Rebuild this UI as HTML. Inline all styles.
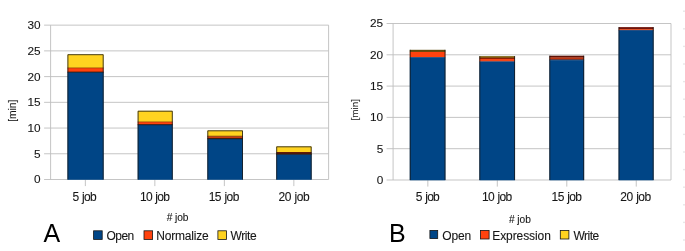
<!DOCTYPE html>
<html><head><meta charset="utf-8"><title>Charts</title>
<style>
html,body{margin:0;padding:0;background:#fff;}
svg{display:block;}
text{font-family:"Liberation Sans",sans-serif;fill:#161616;stroke:#161616;stroke-width:0.1px;}
.big{font-size:25px;fill:#000;stroke:none;}
.g{stroke:#bebebe;stroke-width:0.9;fill:none;}
.b{stroke:#151515;stroke-width:0.8;}
.o{stroke:#151515;stroke-width:0.8;fill:none;}
</style></head><body>
<svg width="685" height="251" viewBox="0 0 685 251">
<rect width="685" height="251" fill="#fff"/>
<line x1="44.10" y1="179.50" x2="328.6" y2="179.50" class="g"/>
<text x="40.5" y="183" class="t" style="font-size:11.8px" text-anchor="end">0</text>
<line x1="44.10" y1="153.78" x2="328.6" y2="153.78" class="g"/>
<text x="40.5" y="158" class="t" style="font-size:11.8px" text-anchor="end">5</text>
<line x1="44.10" y1="128.05" x2="328.6" y2="128.05" class="g"/>
<text x="40.5" y="132" class="t" style="font-size:11.8px" text-anchor="end">10</text>
<line x1="44.10" y1="102.33" x2="328.6" y2="102.33" class="g"/>
<text x="40.5" y="106" class="t" style="font-size:11.8px" text-anchor="end">15</text>
<line x1="44.10" y1="76.60" x2="328.6" y2="76.60" class="g"/>
<text x="40.5" y="81" class="t" style="font-size:11.8px" text-anchor="end">20</text>
<line x1="44.10" y1="50.88" x2="328.6" y2="50.88" class="g"/>
<text x="40.5" y="55" class="t" style="font-size:11.8px" text-anchor="end">25</text>
<line x1="44.10" y1="25.15" x2="328.6" y2="25.15" class="g"/>
<text x="40.5" y="29" class="t" style="font-size:11.8px" text-anchor="end">30</text>
<line x1="50.6" y1="25.15" x2="50.6" y2="179.5" class="g"/>
<line x1="328.6" y1="25.15" x2="328.6" y2="179.5" class="g"/>
<line x1="85.35" y1="179.5" x2="85.35" y2="186.1" class="g"/>
<text x="72.62" y="200.60" class="t" style="font-size:12px;letter-spacing:-0.663px;word-spacing:0.8px" >5 job</text>
<line x1="154.85" y1="179.5" x2="154.85" y2="186.1" class="g"/>
<text x="139.90" y="200.60" class="t" style="font-size:12px;letter-spacing:-0.678px;word-spacing:0.8px" >10 job</text>
<line x1="224.35" y1="179.5" x2="224.35" y2="186.1" class="g"/>
<text x="208.80" y="200.60" class="t" style="font-size:12px;letter-spacing:-0.598px;word-spacing:0.8px" >15 job</text>
<line x1="293.85" y1="179.5" x2="293.85" y2="186.1" class="g"/>
<text x="278.60" y="200.60" class="t" style="font-size:12px;letter-spacing:-0.498px;word-spacing:0.8px" >20 job</text>
<rect x="67.50" y="54.30" width="36.10" height="13.90" fill="#ffd320"/>
<rect x="67.50" y="67.90" width="36.10" height="4.50" fill="#ff420e"/>
<rect x="67.50" y="72.10" width="36.10" height="107.70" fill="#004586"/>
<line x1="67.50" y1="67.90" x2="103.60" y2="67.90" stroke="#7a3a08" stroke-width="0.6"/>
<line x1="67.50" y1="72.10" x2="103.60" y2="72.10" stroke="#1a1208" stroke-width="0.8"/>
<path d="M67.90 179.50V54.70H103.20V179.50" class="o"/>
<rect x="137.70" y="110.80" width="35.00" height="11.40" fill="#ffd320"/>
<rect x="137.70" y="121.90" width="35.00" height="3.00" fill="#ff420e"/>
<rect x="137.70" y="124.60" width="35.00" height="55.20" fill="#004586"/>
<line x1="137.70" y1="121.90" x2="172.70" y2="121.90" stroke="#7a3a08" stroke-width="0.6"/>
<line x1="137.70" y1="124.70" x2="172.70" y2="124.70" stroke="#1a1208" stroke-width="0.8"/>
<path d="M138.10 179.50V111.20H172.30V179.50" class="o"/>
<rect x="207.40" y="130.40" width="35.50" height="6.10" fill="#ffd320"/>
<rect x="207.40" y="136.20" width="35.50" height="2.90" fill="#c83c0e"/>
<rect x="207.40" y="138.80" width="35.50" height="41.00" fill="#004586"/>
<line x1="207.40" y1="136.20" x2="242.90" y2="136.20" stroke="#7a3a08" stroke-width="0.8"/>
<line x1="207.40" y1="138.70" x2="242.90" y2="138.70" stroke="#1a1208" stroke-width="0.9"/>
<path d="M207.80 179.50V130.80H242.50V179.50" class="o"/>
<rect x="276.30" y="146.40" width="35.30" height="5.90" fill="#ffd320"/>
<rect x="276.30" y="152.00" width="35.30" height="2.70" fill="#5e1a08"/>
<rect x="276.30" y="154.40" width="35.30" height="25.40" fill="#004586"/>
<line x1="276.30" y1="154.20" x2="311.60" y2="154.20" stroke="#1a1208" stroke-width="0.7"/>
<path d="M276.70 179.50V146.80H311.20V179.50" class="o"/>
<text transform="translate(16.2,110.7) rotate(-90)" class="t" style="font-size:10.3px" text-anchor="middle">[min]</text>
<text x="166.85" y="220.80" class="t" style="font-size:10.2px;letter-spacing:-0.112px;word-spacing:0.0px" ># job</text>
<text x="43.5" y="241.8" class="big">A</text>
<rect x="93.60" y="230.80" width="8.6" height="8.6" fill="#004586" class="b"/>
<text x="106.43" y="239.80" class="t" style="font-size:12px;letter-spacing:-0.497px;word-spacing:0.0px" >Open</text>
<rect x="144.00" y="230.80" width="8.6" height="8.6" fill="#ff420e" class="b"/>
<text x="156.21" y="239.80" class="t" style="font-size:12px;letter-spacing:-0.200px;word-spacing:0.0px" >Normalize</text>
<rect x="217.90" y="230.80" width="8.6" height="8.6" fill="#ffd320" class="b"/>
<text x="230.54" y="239.80" class="t" style="font-size:12px;letter-spacing:-0.427px;word-spacing:0.0px" >Write</text>
<line x1="386.60" y1="180.00" x2="671.0" y2="180.00" class="g"/>
<text x="383.2" y="184" class="t" style="font-size:11.8px" text-anchor="end">0</text>
<line x1="386.60" y1="148.70" x2="671.0" y2="148.70" class="g"/>
<text x="383.2" y="153" class="t" style="font-size:11.8px" text-anchor="end">5</text>
<line x1="386.60" y1="117.40" x2="671.0" y2="117.40" class="g"/>
<text x="383.2" y="121" class="t" style="font-size:11.8px" text-anchor="end">10</text>
<line x1="386.60" y1="86.10" x2="671.0" y2="86.10" class="g"/>
<text x="383.2" y="90" class="t" style="font-size:11.8px" text-anchor="end">15</text>
<line x1="386.60" y1="54.80" x2="671.0" y2="54.80" class="g"/>
<text x="383.2" y="59" class="t" style="font-size:11.8px" text-anchor="end">20</text>
<line x1="386.60" y1="23.50" x2="671.0" y2="23.50" class="g"/>
<text x="383.2" y="27" class="t" style="font-size:11.8px" text-anchor="end">25</text>
<line x1="393.1" y1="23.5" x2="393.1" y2="180.0" class="g"/>
<line x1="671.0" y1="23.5" x2="671.0" y2="180.0" class="g"/>
<line x1="427.84" y1="180.0" x2="427.84" y2="186.6" class="g"/>
<text x="415.82" y="201.00" class="t" style="font-size:12px;letter-spacing:-0.713px;word-spacing:0.8px" >5 job</text>
<line x1="497.31" y1="180.0" x2="497.31" y2="186.6" class="g"/>
<text x="482.00" y="201.00" class="t" style="font-size:12px;letter-spacing:-0.678px;word-spacing:0.8px" >10 job</text>
<line x1="566.79" y1="180.0" x2="566.79" y2="186.6" class="g"/>
<text x="551.60" y="201.00" class="t" style="font-size:12px;letter-spacing:-0.618px;word-spacing:0.8px" >15 job</text>
<line x1="636.26" y1="180.0" x2="636.26" y2="186.6" class="g"/>
<text x="620.30" y="201.00" class="t" style="font-size:12px;letter-spacing:-0.538px;word-spacing:0.8px" >20 job</text>
<rect x="409.80" y="49.80" width="35.60" height="2.40" fill="#5e4a0e"/>
<rect x="409.80" y="51.90" width="35.60" height="5.60" fill="#ff420e"/>
<rect x="409.80" y="57.20" width="35.60" height="123.10" fill="#004586"/>
<path d="M410.20 180.00V49.80M445.00 49.80V180.00" class="o"/>
<rect x="479.40" y="56.10" width="35.60" height="1.90" fill="#806818"/>
<rect x="479.40" y="57.70" width="35.60" height="1.60" fill="#8e1e04"/>
<rect x="479.40" y="59.00" width="35.60" height="2.70" fill="#f2471a"/>
<rect x="479.40" y="61.40" width="35.60" height="118.90" fill="#004586"/>
<path d="M479.80 180.00V56.10M514.60 56.10V180.00" class="o"/>
<rect x="549.40" y="55.70" width="34.70" height="2.00" fill="#5e1206"/>
<rect x="549.40" y="57.40" width="34.70" height="2.30" fill="#bc3410"/>
<rect x="549.40" y="59.40" width="34.70" height="1.10" fill="#1e1830"/>
<rect x="549.40" y="60.20" width="34.70" height="120.10" fill="#004586"/>
<path d="M549.80 180.00V55.70M583.70 55.70V180.00" class="o"/>
<rect x="618.60" y="27.10" width="35.00" height="2.40" fill="#70140a"/>
<rect x="618.60" y="29.20" width="35.00" height="1.10" fill="#e8481a"/>
<rect x="618.60" y="30.00" width="35.00" height="0.70" fill="#203060"/>
<rect x="618.60" y="30.40" width="35.00" height="149.90" fill="#004586"/>
<path d="M619.00 180.00V27.10M653.20 27.10V180.00" class="o"/>
<text transform="translate(358.0,109.8) rotate(-90)" class="t" style="font-size:9.9px" text-anchor="middle">[min]</text>
<text x="508.95" y="223.00" class="t" style="font-size:10.2px;letter-spacing:-0.037px;word-spacing:0.0px" ># job</text>
<text x="389.0" y="241.8" class="big">B</text>
<rect x="429.90" y="230.40" width="7.8" height="8.2" fill="#004586" class="b"/>
<text x="442.13" y="239.90" class="t" style="font-size:12px;letter-spacing:-0.063px;word-spacing:0.0px" >Open</text>
<rect x="480.50" y="230.40" width="8.6" height="8.6" fill="#ff420e" class="b"/>
<text x="492.21" y="239.90" class="t" style="font-size:12px;letter-spacing:-0.074px;word-spacing:0.0px" >Expression</text>
<rect x="560.30" y="230.40" width="8.6" height="8.6" fill="#ffd320" class="b"/>
<text x="573.54" y="239.90" class="t" style="font-size:12px;letter-spacing:-0.553px;word-spacing:0.0px" >Write</text>
<rect x="683" y="10.5" width="2" height="1.4" fill="#e8e8e8"/>
<rect x="683" y="28.1" width="2" height="1.4" fill="#e8e8e8"/>
<rect x="683" y="45.7" width="2" height="1.4" fill="#e8e8e8"/>
<rect x="683" y="63.3" width="2" height="1.4" fill="#e8e8e8"/>
<rect x="683" y="80.9" width="2" height="1.4" fill="#e8e8e8"/>
<rect x="683" y="98.5" width="2" height="1.4" fill="#e8e8e8"/>
<rect x="683" y="116.1" width="2" height="1.4" fill="#e8e8e8"/>
<rect x="683" y="133.7" width="2" height="1.4" fill="#e8e8e8"/>
<rect x="683" y="151.3" width="2" height="1.4" fill="#e8e8e8"/>
<rect x="683" y="168.9" width="2" height="1.4" fill="#e8e8e8"/>
<rect x="683" y="186.5" width="2" height="1.4" fill="#e8e8e8"/>
<rect x="683" y="204.1" width="2" height="1.4" fill="#e8e8e8"/>
<rect x="683" y="221.7" width="2" height="1.4" fill="#e8e8e8"/>
<rect x="683" y="239.3" width="2" height="1.4" fill="#e8e8e8"/>
</svg>
</body></html>
